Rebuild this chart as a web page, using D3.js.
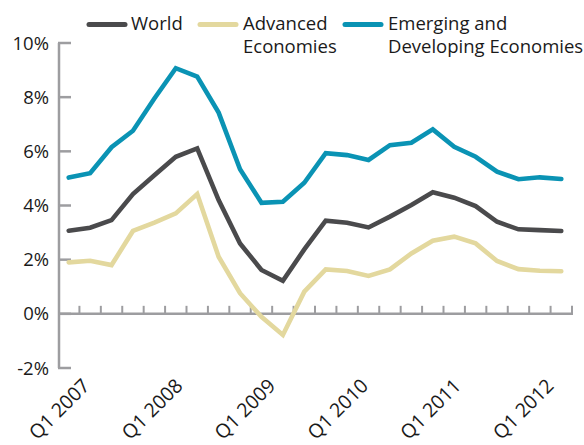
<!DOCTYPE html>
<html><head><meta charset="utf-8">
<script src="https://cdn.jsdelivr.net/npm/d3@7"></script>
<style>
html,body{margin:0;padding:0;background:#fff;}
svg{display:block;}
text{font-family:"Open Sans",sans-serif;fill:#1a1a1a;}
</style></head>
<body><svg id="c" width="584" height="445"></svg>
<script>
const years = [2007, 2008, 2009, 2010, 2011, 2012];
const quarters = years.flatMap(y => ["Q1","Q2","Q3","Q4"].map(q => q + " " + y));
const tickLabels = years.map(y => "Q1 " + y);
const world = [3.07,3.18,3.46,4.42,5.12,5.80,6.11,4.20,2.60,1.62,1.22,2.38,3.44,3.36,3.19,3.59,4.02,4.49,4.29,3.98,3.40,3.12,3.09,3.06];
const advanced = [1.90,1.96,1.80,3.06,3.37,3.71,4.42,2.11,0.76,-0.11,-0.78,0.82,1.64,1.58,1.40,1.64,2.23,2.70,2.85,2.60,1.95,1.65,1.59,1.57];
const emerging = [5.03,5.19,6.15,6.76,7.95,9.07,8.76,7.43,5.34,4.10,4.14,4.84,5.93,5.86,5.68,6.23,6.32,6.81,6.17,5.80,5.25,4.97,5.04,4.98];
const yTicks = [-2,0,2,4,6,8,10];
const seriesNames = ["World","Advanced Economies","Emerging and Developing Economies"];
const colors = ["#4a4a4c","#e3d89e","#0a93b4"];

const svg = d3.select("#c");
const x = d3.scaleBand().domain(quarters).range([58, 572]);
const y = d3.scaleLinear().domain([-2, 10]).range([368, 43]);
const axisColor = "#9d9da0";

// y axis
svg.append("line").attr("x1",59).attr("x2",59).attr("y1",y(10)).attr("y2",y(-2))
  .attr("stroke",axisColor).attr("stroke-width",2.5);
svg.selectAll(".yt").data(yTicks).enter().append("line")
  .attr("x1",58).attr("x2",71).attr("y1",d=>y(d)).attr("y2",d=>y(d))
  .attr("stroke",axisColor).attr("stroke-width",2.5);
svg.selectAll(".yl").data(yTicks).enter().append("text")
  .attr("x",49).attr("y",d=>y(d)).attr("dy","0.36em")
  .attr("text-anchor","end").attr("font-size",18.5)
  .text(d=>d+"%");

// x axis at 0
svg.append("line").attr("x1",58).attr("x2",573).attr("y1",y(0)).attr("y2",y(0))
  .attr("stroke",axisColor).attr("stroke-width",2.5);
svg.selectAll(".xt").data(quarters).enter().append("line")
  .attr("x1",d=>x(d)+x.bandwidth()).attr("x2",d=>x(d)+x.bandwidth())
  .attr("y1",y(0)).attr("y2",y(0)-8)
  .attr("stroke",axisColor).attr("stroke-width",2);

// category labels
const lx = d3.scaleLinear().domain([0, tickLabels.length-1]).range([91, 555]);
svg.selectAll(".xl").data(tickLabels).enter().append("text")
  .attr("transform",(d,i)=>`translate(${lx(i)},387) rotate(-45)`)
  .attr("text-anchor","end").attr("font-size",19.5)
  .text(d=>d);

// lines
const line = d3.line().x((d,i)=>x(quarters[i])+x.bandwidth()/2).y(d=>y(d));
[world, advanced, emerging].forEach((s,k)=>{
  svg.append("path").attr("d",line(s)).attr("fill","none")
    .attr("stroke",colors[k]).attr("stroke-width",4.6)
    .attr("stroke-linejoin","miter").attr("stroke-linecap","round");
});

// legend
const leg = [
  {sx:89, tx:131, lines:["World"]},
  {sx:200, tx:243, lines:["Advanced","Economies"]},
  {sx:345, tx:388, lines:["Emerging and","Developing Economies"]}
];
leg.forEach((l,k)=>{
  svg.append("line").attr("x1",l.sx).attr("x2",l.sx+36).attr("y1",24.5).attr("y2",24.5)
    .attr("stroke",colors[k]).attr("stroke-width",5).attr("stroke-linecap","round");
  const t = svg.append("text").attr("x",l.tx).attr("y",30).attr("font-size",18.5);
  l.lines.forEach((s,j)=>t.append("tspan").attr("x",l.tx).attr("dy",j?23:0).text(s));
});
</script></body></html>
